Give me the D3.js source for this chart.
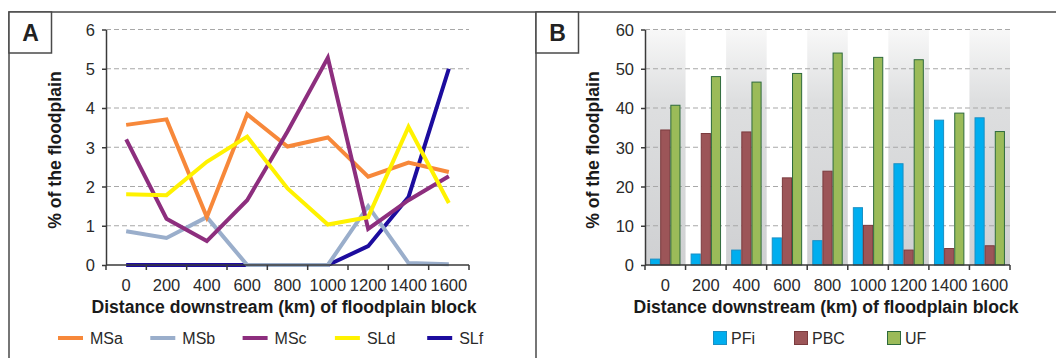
<!DOCTYPE html>
<html>
<head>
<meta charset="utf-8">
<script src="https://cdn.jsdelivr.net/npm/d3@7"></script>
<style>
  html, body { margin: 0; padding: 0; background: #fff; }
  svg { display: block; font-family: "Liberation Sans", Arial, sans-serif; }
</style>
</head>
<body>
<svg id="chart" width="1056" height="358"></svg>
<script>
// categories: distance downstream (km)
const distances = ['0', '200', '400', '600', '800', '1000', '1200', '1400', '1600'];

// panel A: % of floodplain per unit
const lineNames = ['MSa', 'MSb', 'MSc', 'SLd', 'SLf'];
const msa = [3.57, 3.71, 1.22, 3.84, 3.02, 3.25, 2.25, 2.61, 2.37];
const msb = [0.86, 0.69, 1.22, 0.0, 0.0, 0.0, 1.5, 0.05, 0.02];
const msc = [3.2, 1.18, 0.61, 1.65, 3.4, 5.28, 0.92, 1.65, 2.26];
const sld = [1.8, 1.78, 2.63, 3.27, 1.95, 1.03, 1.22, 3.52, 1.58];
const slf = [0, 0, 0, 0, 0, 0, 0.48, 1.73, 5.0];
const lineColors = ['#f7883a', '#9aaecb', '#8d2e7e', '#fff200', '#1c0c9e'];
const yTicksA = [0, 1, 2, 3, 4, 5, 6];

// panel B: % of floodplain per type
const barNames = ['PFi', 'PBC', 'UF'];
const pfi = [1.5, 2.8, 3.8, 6.9, 6.2, 14.6, 25.8, 36.9, 37.5];
const pbc = [34.4, 33.5, 33.9, 22.2, 23.9, 10.1, 3.8, 4.2, 4.9];
const uf = [40.7, 48.0, 46.6, 48.8, 54.0, 52.9, 52.3, 38.7, 34.0];
const barFills = ['#00aeef', '#9c5558', '#9bbb59'];
const barStrokes = ['#1b8fc4', '#7b3b3e', '#2e6a3c'];
const yTicksB = [0, 10, 20, 30, 40, 50, 60];

const xTitle = 'Distance downstream (km) of floodplain block';
const yTitle = '% of the floodplain';

const svg = d3.select('#chart');
const axisColor = '#3a3a3a';
const textColor = '#2a2a2a';
const fontFam = '"Liberation Sans", Arial, sans-serif';

// frame
svg.append('path')
  .attr('d', 'M9,358V12H1056M536,12V358')
  .attr('fill', 'none').attr('stroke', '#4a4a4a').attr('stroke-width', 1.5);

function panelLabel (x, txt) {
  svg.append('rect').attr('x', x).attr('y', 12).attr('width', 42.5).attr('height', 41)
    .attr('fill', '#fff').attr('stroke', '#4a4a4a').attr('stroke-width', 1.5);
  svg.append('text').attr('x', x + 21.5).attr('y', 41).attr('text-anchor', 'middle')
    .style('font-size', '23px').style('font-weight', 'bold').style('fill', '#222')
    .text(txt);
}

function drawAxes (g, x, y, ticks, titleX, titleY) {
  const [x0, x1] = x.range();
  const [yb] = y.range();

  // dashed grid
  g.append('g').selectAll('line')
    .data(ticks.filter(t => t > 0))
    .enter().append('line')
    .attr('x1', x0).attr('x2', x1)
    .attr('y1', d => y(d)).attr('y2', d => y(d))
    .attr('stroke', '#a8a8a8').attr('stroke-width', 1.2)
    .attr('stroke-dasharray', '5,3');

  return function finish () {
    // y axis
    const ya = g.append('g').attr('transform', `translate(${x0},0)`)
      .call(d3.axisLeft(y).tickValues(ticks).tickFormat(d3.format('d'))
        .tickSize(4).tickPadding(7).tickSizeOuter(0));
    ya.select('.domain').attr('stroke', axisColor).attr('stroke-width', 1.5);
    ya.selectAll('.tick line').attr('stroke', axisColor).attr('stroke-width', 1.5);
    ya.selectAll('.tick text').style('font-size', '16.5px').style('fill', textColor)
      .attr('dy', '0.36em').style('font-family', fontFam);

    // x axis with ticks at band edges
    const xa = g.append('g').attr('transform', `translate(0,${yb})`)
      .call(d3.axisBottom(x).tickSize(0).tickPadding(0).tickSizeOuter(0));
    xa.select('.domain').remove();
    xa.selectAll('.tick text').attr('y', 26).attr('dy', 0)
      .style('font-size', '16.5px').style('fill', textColor)
      .style('font-family', fontFam);
    g.append('line').attr('x1', x0).attr('x2', x1).attr('y1', yb).attr('y2', yb)
      .attr('stroke', axisColor).attr('stroke-width', 1.5);
    const edges = x.domain().map(d => x(d)).concat([x1]);
    g.append('g').selectAll('line').data(edges).enter().append('line')
      .attr('x1', d => d).attr('x2', d => d)
      .attr('y1', yb).attr('y2', yb + 5)
      .attr('stroke', axisColor).attr('stroke-width', 1.5);

    // titles
    g.append('text').attr('x', titleX).attr('y', 313).attr('text-anchor', 'middle')
      .style('font-size', '17.6px').style('font-weight', 'bold').style('fill', '#1a1a1a')
      .text(xTitle);
    g.append('text').attr('transform', `translate(${titleY},150) rotate(-90)`)
      .attr('text-anchor', 'middle').attr('dy', '0.35em')
      .style('font-size', '17.6px').style('font-weight', 'bold').style('fill', '#1a1a1a')
      .text(yTitle);
  };
}

// ---------- panel A ----------
const gA = svg.append('g');
const xA = d3.scaleBand().domain(distances).range([106, 469]);
const yA = d3.scaleLinear().domain([0, 6]).range([265, 29.5]);
const finishA = drawAxes(gA, xA, yA, yTicksA, 284, 55);

const seriesA = [msa, msb, msc, sld, slf];
const drawOrder = [4, 1, 0, 2, 3];
const line = d3.line()
  .x((d, i) => xA(distances[i]) + xA.bandwidth() / 2)
  .y(d => yA(d));
gA.append('g').selectAll('path')
  .data(drawOrder)
  .enter().append('path')
  .attr('d', k => line(seriesA[k]))
  .attr('fill', 'none')
  .attr('stroke', k => lineColors[k])
  .attr('stroke-width', 4)
  .attr('stroke-linejoin', 'miter');
finishA();

// legend A
const legA = gA.append('g').selectAll('g').data(lineNames).enter().append('g')
  .attr('transform', (d, i) => `translate(${58 + i * 92.3},338)`);
legA.append('line').attr('x1', 0).attr('x2', 25).attr('y1', 0).attr('y2', 0)
  .attr('stroke', (d, i) => lineColors[i]).attr('stroke-width', 4);
legA.append('text').attr('x', 32).attr('dy', '0.36em')
  .style('font-size', '16px').style('fill', textColor).text(d => d);

// ---------- panel B ----------
const gB = svg.append('g');
const xB = d3.scaleBand().domain(distances).range([645, 1010]);
const yB = d3.scaleLinear().domain([0, 60]).range([265, 29.5]);

// alternating shaded bands
const defs = svg.append('defs');
const grad = defs.append('linearGradient').attr('id', 'bandGrad')
  .attr('x1', 0).attr('x2', 0).attr('y1', 0).attr('y2', 1);
grad.append('stop').attr('offset', '0%').attr('stop-color', '#f8f8f8');
grad.append('stop').attr('offset', '30%').attr('stop-color', '#dedfe0');
grad.append('stop').attr('offset', '100%').attr('stop-color', '#cfd0d2');
gB.append('g').selectAll('rect')
  .data(distances.filter((d, i) => i % 2 === 0))
  .enter().append('rect')
  .attr('x', d => xB(d)).attr('width', xB.bandwidth())
  .attr('y', yB(60)).attr('height', yB(0) - yB(60))
  .attr('fill', 'url(#bandGrad)');

const finishB = drawAxes(gB, xB, yB, yTicksB, 826, 593);

const seriesB = [pfi, pbc, uf];
const xInner = d3.scaleBand().domain(barNames).range([0, xB.bandwidth()]).paddingOuter(0.5).paddingInner(0);
const groups = gB.append('g').selectAll('g').data(distances).enter().append('g')
  .attr('transform', d => `translate(${xB(d)},0)`);
groups.selectAll('rect')
  .data((d, i) => barNames.map((n, k) => ({ k, name: n, v: seriesB[k][i] })))
  .enter().append('rect')
  .attr('x', d => xInner(d.name) + 0.5)
  .attr('width', xInner.bandwidth() - 1)
  .attr('y', d => yB(d.v))
  .attr('height', d => yB(0) - yB(d.v))
  .attr('fill', d => barFills[d.k])
  .attr('stroke', d => barStrokes[d.k])
  .attr('stroke-width', 1);
finishB();

// legend B
const legBx = [713, 794, 887];
const legB = gB.append('g').selectAll('g').data(barNames).enter().append('g')
  .attr('transform', (d, i) => `translate(${legBx[i]},338)`);
legB.append('rect').attr('x', 0.5).attr('y', -6.5).attr('width', 13).attr('height', 13)
  .attr('fill', (d, i) => barFills[i]).attr('stroke', (d, i) => barStrokes[i]);
legB.append('text').attr('x', 18).attr('dy', '0.36em')
  .style('font-size', '16px').style('fill', textColor).text(d => d);

panelLabel(9, 'A');
panelLabel(536, 'B');
</script>
</body>
</html>
